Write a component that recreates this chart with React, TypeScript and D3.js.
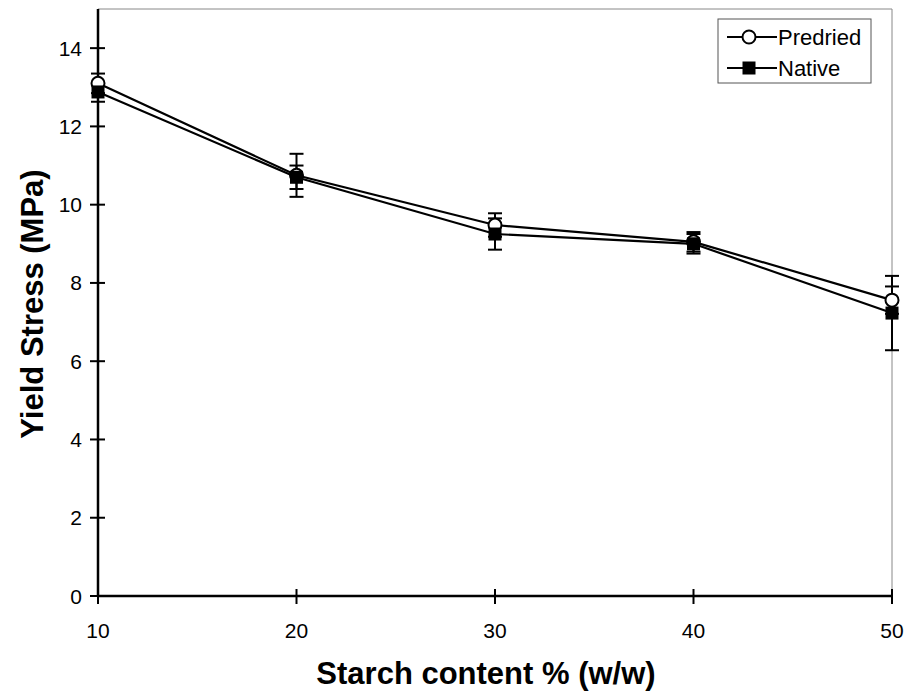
import * as d3 from "d3";
import { useEffect, useRef } from "react";

const starch = [10, 20, 30, 40, 50];
const predried = [13.1, 10.75, 9.48, 9.05, 7.56];
const predriedErr = [0.25, 0.55, 0.3, 0.25, 0.35];
const native = [12.88, 10.7, 9.25, 9.0, 7.23];
const nativeErr = [0.25, 0.3, 0.4, 0.25, 0.95];
const yTicks = [0, 2, 4, 6, 8, 10, 12, 14];
const xTicks = [10, 20, 30, 40, 50];

export default function App() {
  const ref = useRef<SVGSVGElement>(null);

  useEffect(() => {
    const width = 910;
    const height = 699;
    const margin = { top: 9, right: 18, bottom: 103, left: 98 };
    const innerWidth = width - margin.left - margin.right;
    const innerHeight = height - margin.top - margin.bottom;

    const svg = d3.select(ref.current);
    svg.selectAll("*").remove();
    svg.attr("width", width).attr("height", height);

    const x = d3.scaleLinear().domain([10, 50]).range([0, innerWidth]);
    const y = d3.scaleLinear().domain([0, 15]).range([innerHeight, 0]);

    const g = svg
      .append("g")
      .attr("transform", `translate(${margin.left},${margin.top})`);

    // thin frame top / right
    g.append("line")
      .attr("x1", 0).attr("x2", innerWidth)
      .attr("y1", 0).attr("y2", 0)
      .attr("stroke", "#888").attr("stroke-width", 1);
    g.append("line")
      .attr("x1", innerWidth).attr("x2", innerWidth)
      .attr("y1", 0).attr("y2", innerHeight)
      .attr("stroke", "#888").attr("stroke-width", 1);

    const font = "Liberation Sans, Arial, sans-serif";

    // y axis
    const yAxis = g.append("g");
    yAxis.append("line")
      .attr("x1", 0).attr("x2", 0).attr("y1", 0).attr("y2", innerHeight)
      .attr("stroke", "#000").attr("stroke-width", 2.5);
    yTicks.forEach((t) => {
      yAxis.append("line")
        .attr("x1", -8).attr("x2", 7)
        .attr("y1", y(t)).attr("y2", y(t))
        .attr("stroke", "#000").attr("stroke-width", 2);
      yAxis.append("text")
        .attr("x", -16).attr("y", y(t)).attr("dy", "0.36em")
        .attr("text-anchor", "end")
        .attr("font-family", font).attr("font-size", 21)
        .text(t);
    });

    // x axis
    const xAxis = g.append("g");
    xAxis.append("line")
      .attr("x1", 0).attr("x2", innerWidth)
      .attr("y1", innerHeight).attr("y2", innerHeight)
      .attr("stroke", "#000").attr("stroke-width", 2.5);
    xTicks.forEach((t) => {
      xAxis.append("line")
        .attr("x1", x(t)).attr("x2", x(t))
        .attr("y1", innerHeight - 7).attr("y2", innerHeight + 8)
        .attr("stroke", "#000").attr("stroke-width", 2);
      xAxis.append("text")
        .attr("x", x(t)).attr("y", innerHeight + 42)
        .attr("text-anchor", "middle")
        .attr("font-family", font).attr("font-size", 21)
        .text(t);
    });

    // axis titles
    svg.append("text")
      .attr("x", 486)
      .attr("y", 684)
      .attr("text-anchor", "middle")
      .attr("font-family", font).attr("font-size", 31).attr("font-weight", "bold")
      .text("Starch content % (w/w)");
    svg.append("text")
      .attr("transform", "translate(43,304) rotate(-90)")
      .attr("text-anchor", "middle")
      .attr("font-family", font).attr("font-size", 31).attr("font-weight", "bold")
      .text("Yield Stress (MPa)");

    const series = [
      { name: "Predried", values: predried, err: predriedErr, marker: "circle" },
      { name: "Native", values: native, err: nativeErr, marker: "square" },
    ];

    const line = d3
      .line<number>()
      .x((d, i) => x(starch[i]))
      .y((d) => y(d));

    series.forEach((s) => {
      // error bars
      s.values.forEach((v, i) => {
        const cx = x(starch[i]);
        const eb = g.append("g").attr("stroke", "#000").attr("stroke-width", 2);
        eb.append("line")
          .attr("x1", cx).attr("x2", cx)
          .attr("y1", y(v - s.err[i])).attr("y2", y(v + s.err[i]));
        [v - s.err[i], v + s.err[i]].forEach((e) => {
          eb.append("line")
            .attr("x1", cx - 7).attr("x2", cx + 7)
            .attr("y1", y(e)).attr("y2", y(e));
        });
      });
      g.append("path")
        .datum(s.values)
        .attr("d", line)
        .attr("fill", "none")
        .attr("stroke", "#000")
        .attr("stroke-width", 2.2);
    });

    series.forEach((s) => {
      s.values.forEach((v, i) => {
        if (s.marker === "circle") {
          g.append("circle")
            .attr("cx", x(starch[i])).attr("cy", y(v)).attr("r", 6.5)
            .attr("fill", "#fff").attr("stroke", "#000").attr("stroke-width", 2);
        } else {
          g.append("rect")
            .attr("x", x(starch[i]) - 6.5).attr("y", y(v) - 6.5)
            .attr("width", 13).attr("height", 13)
            .attr("fill", "#000");
        }
      });
    });

    // legend
    const legend = svg.append("g").attr("transform", "translate(718,19)");
    legend.append("rect")
      .attr("width", 153).attr("height", 64)
      .attr("fill", "#fff").attr("stroke", "#555").attr("stroke-width", 1);
    series.forEach((s, i) => {
      const ly = 18 + i * 31;
      legend.append("line")
        .attr("x1", 9).attr("x2", 59).attr("y1", ly).attr("y2", ly)
        .attr("stroke", "#000").attr("stroke-width", 2);
      if (s.marker === "circle") {
        legend.append("circle")
          .attr("cx", 31).attr("cy", ly).attr("r", 6.5)
          .attr("fill", "#fff").attr("stroke", "#000").attr("stroke-width", 2);
      } else {
        legend.append("rect")
          .attr("x", 24.5).attr("y", ly - 6.5).attr("width", 13).attr("height", 13)
          .attr("fill", "#000");
      }
      legend.append("text")
        .attr("x", 60).attr("y", ly).attr("dy", "0.36em")
        .attr("font-family", font).attr("font-size", 22)
        .text(s.name);
    });
  }, []);

  return (
    <svg
      ref={ref}
      style={{ position: "absolute", left: 0, top: 0, display: "block" }}
    ></svg>
  );
}
